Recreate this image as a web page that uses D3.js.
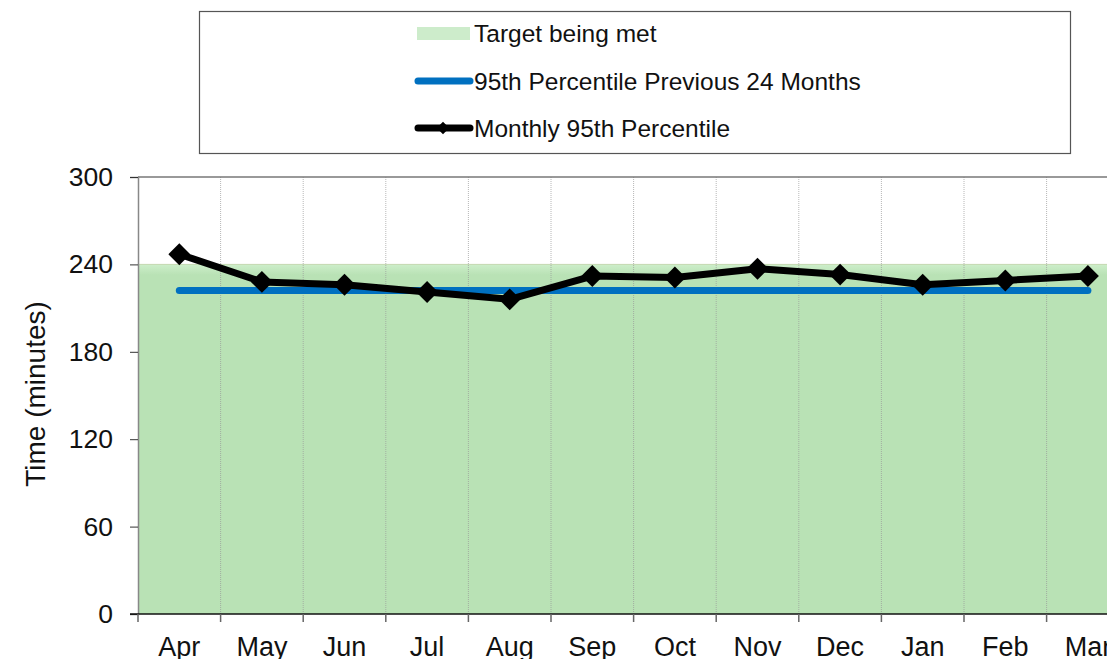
<!DOCTYPE html>
<html lang="en">
  <head>
    <meta charset="UTF-8" />
    <title>Monthly 95th Percentile</title>
    <script src="https://cdnjs.cloudflare.com/ajax/libs/d3/7.8.5/d3.min.js"></script>
    <style>
      body { margin: 0; background: #fff; }
      svg { display: block; font-family: Arial, "Liberation Sans", sans-serif; }
    </style>
  </head>
  <body>
    <div id="chart"></div>
    <script>
      // Data
      const months = ["Apr", "May", "Jun", "Jul", "Aug", "Sep", "Oct", "Nov", "Dec", "Jan", "Feb", "Mar"];
      const monthly95 = [247, 228, 226, 221, 216, 232, 231, 237, 233, 226, 229, 232];
      const prev24 = [222, 222, 222, 222, 222, 222, 222, 222, 222, 222, 222, 222];
      const target = 240;
      const yTicks = [0, 60, 120, 180, 240, 300];
      const legendItems = ["Target being met", "95th Percentile Previous 24 Months", "Monthly 95th Percentile"];

      const width = 1107;
      const height = 659;
      const margin = { left: 138, top: 177, bottom: 45 };
      const plotRight = 138 + 12 * 82.6;

      const svg = d3.select("#chart").append("svg")
        .attr("width", width)
        .attr("height", height);

      const defs = svg.append("defs");
      const grad = defs.append("linearGradient")
        .attr("id", "greenFade")
        .attr("x1", 0).attr("y1", 0).attr("x2", 0).attr("y2", 1);
      grad.append("stop").attr("offset", "0%").attr("stop-color", "#cdeeca");
      grad.append("stop").attr("offset", "3%").attr("stop-color", "#b9e2b5");
      grad.append("stop").attr("offset", "100%").attr("stop-color", "#b9e2b5");

      const x = d3.scaleBand()
        .domain(months)
        .range([margin.left, plotRight]);

      const y = d3.scaleLinear()
        .domain([0, 300])
        .range([height - margin.bottom, margin.top]);

      // Target area
      svg.append("rect")
        .attr("x", margin.left)
        .attr("y", y(target))
        .attr("width", plotRight - margin.left)
        .attr("height", y(0) - y(target))
        .attr("fill", "url(#greenFade)");
      svg.append("line")
        .attr("x1", margin.left).attr("x2", plotRight)
        .attr("y1", y(target)).attr("y2", y(target))
        .attr("stroke", "#c4d8b0").attr("stroke-width", 1);

      // Vertical gridlines
      svg.append("g")
        .selectAll("line")
        .data(months.slice(1))
        .join("line")
        .attr("x1", (d) => x(d)).attr("x2", (d) => x(d))
        .attr("y1", y(300)).attr("y2", y(0))
        .attr("stroke", "#999")
        .attr("stroke-opacity", 0.7)
        .attr("stroke-dasharray", "1,1");

      // Top border
      svg.append("line")
        .attr("x1", margin.left).attr("x2", plotRight)
        .attr("y1", y(300)).attr("y2", y(300))
        .attr("stroke", "#777").attr("stroke-width", 1.5);

      // Y axis
      const yAxis = svg.append("g")
        .attr("transform", `translate(${margin.left},0)`)
        .call(d3.axisLeft(y).tickValues(yTicks).tickSize(8).tickPadding(17));
      yAxis.select(".domain").attr("stroke", "#888").attr("stroke-width", 1.5);
      yAxis.selectAll(".tick line").attr("stroke", "#333");
      yAxis.selectAll("text")
        .attr("font-size", 26.5)
        .attr("font-family", "Arial, 'Liberation Sans', sans-serif")
        .attr("fill", "#111");

      // X axis
      svg.append("line")
        .attr("x1", margin.left - 8).attr("x2", plotRight)
        .attr("y1", y(0)).attr("y2", y(0))
        .attr("stroke", "#111").attr("stroke-width", 1.5);
      svg.append("g")
        .selectAll("line")
        .data(months)
        .join("line")
        .attr("x1", (d) => x(d)).attr("x2", (d) => x(d))
        .attr("y1", y(0)).attr("y2", y(0) + 8)
        .attr("stroke", "#666").attr("stroke-width", 1.5);
      svg.append("g")
        .selectAll("text")
        .data(months)
        .join("text")
        .attr("x", (d) => x(d) + x.bandwidth() / 2)
        .attr("y", y(0) + 42)
        .attr("text-anchor", "middle")
        .attr("font-size", 27)
        .attr("fill", "#111")
        .text((d) => d);

      // Axis title
      svg.append("text")
        .attr("transform", `translate(45,394) rotate(-90)`)
        .attr("text-anchor", "middle")
        .attr("font-size", 28)
        .attr("fill", "#111")
        .text("Time (minutes)");

      const cx = (d, i) => x(months[i]) + x.bandwidth() / 2;

      // Previous 24 months line
      svg.append("path")
        .datum(prev24)
        .attr("fill", "none")
        .attr("stroke", "#0070c0")
        .attr("stroke-width", 7)
        .attr("stroke-linecap", "round")
        .attr("d", d3.line().x(cx).y((d) => y(d)));

      // Monthly line
      svg.append("path")
        .datum(monthly95)
        .attr("fill", "none")
        .attr("stroke", "#000")
        .attr("stroke-width", 7)
        .attr("stroke-linejoin", "round")
        .attr("d", d3.line().x(cx).y((d) => y(d)));

      svg.append("g")
        .selectAll("path")
        .data(monthly95)
        .join("path")
        .attr("transform", (d, i) => `translate(${cx(d, i)},${y(d)}) rotate(45)`)
        .attr("d", d3.symbol().type(d3.symbolSquare).size(240))
        .attr("fill", "#000");

      // Legend
      const legend = svg.append("g");
      legend.append("rect")
        .attr("x", 199.5).attr("y", 11.5)
        .attr("width", 871).attr("height", 142)
        .attr("fill", "#fff")
        .attr("stroke", "#555").attr("stroke-width", 1.2);

      const rowY = [33, 81, 128];
      legend.append("rect")
        .attr("x", 417).attr("y", rowY[0] - 6)
        .attr("width", 53).attr("height", 13)
        .attr("fill", "#cdeccb");
      legend.append("line")
        .attr("x1", 418).attr("x2", 470)
        .attr("y1", rowY[1]).attr("y2", rowY[1])
        .attr("stroke", "#0070c0").attr("stroke-width", 7)
        .attr("stroke-linecap", "round");
      legend.append("line")
        .attr("x1", 418).attr("x2", 470)
        .attr("y1", rowY[2]).attr("y2", rowY[2])
        .attr("stroke", "#000").attr("stroke-width", 7)
        .attr("stroke-linecap", "round");
      legend.append("path")
        .attr("transform", `translate(443,${rowY[2]}) rotate(45)`)
        .attr("d", d3.symbol().type(d3.symbolSquare).size(80))
        .attr("fill", "#000");

      legend.selectAll("text.item")
        .data(legendItems)
        .join("text")
        .attr("class", "item")
        .attr("x", 474)
        .attr("y", (d, i) => rowY[i])
        .attr("dy", "0.35em")
        .attr("font-size", 24.5)
        .attr("fill", "#111")
        .text((d) => d);
    </script>
  </body>
</html>
